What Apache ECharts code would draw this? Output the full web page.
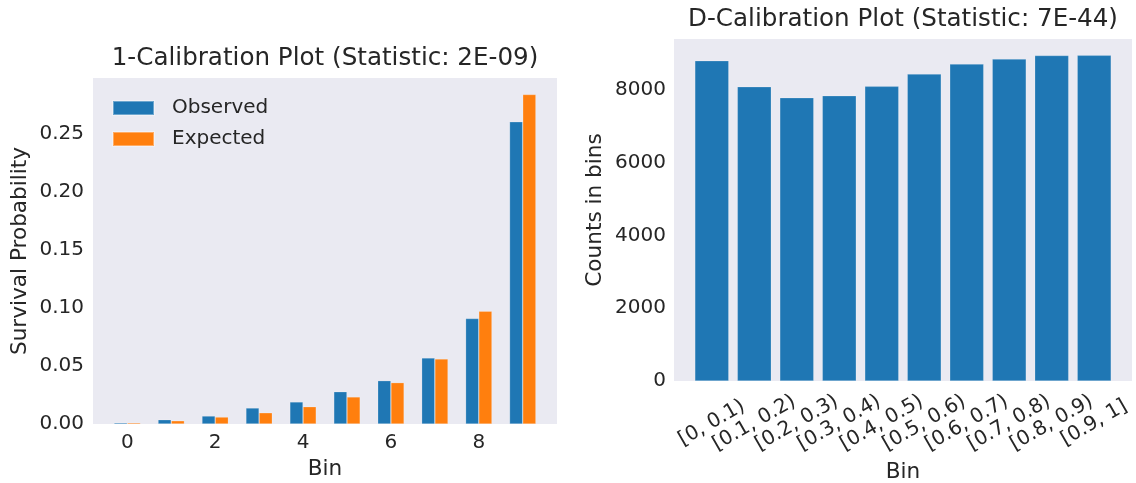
<!DOCTYPE html>
<html>
<head>
<meta charset="utf-8">
<script src="https://cdn.jsdelivr.net/npm/echarts@6/dist/echarts.min.js"></script>
<style>html,body{margin:0;padding:0;background:#fff}#c{width:1136px;height:483px}</style>
</head>
<body>
<div id="c"></div>
<script>
// ---- data ----
const leftTitle = '1-Calibration Plot (Statistic: 2E-09)';
const rightTitle = 'D-Calibration Plot (Statistic: 7E-44)';
const bins = [0, 1, 2, 3, 4, 5, 6, 7, 8, 9];
const leftTickLabels = [0, 2, 4, 6, 8];
const observed = [0.0011, 0.0037, 0.0069, 0.0138, 0.0190, 0.0278, 0.0373, 0.0569, 0.0908, 0.2601];
const expected = [0.0011, 0.0028, 0.0060, 0.0097, 0.0149, 0.0233, 0.0356, 0.0560, 0.0971, 0.2836];
const leftYTicks = [0, 0.05, 0.10, 0.15, 0.20, 0.25];
const binLabels = ['[0, 0.1)', '[0.1, 0.2)', '[0.2, 0.3)', '[0.3, 0.4)', '[0.4, 0.5)', '[0.5, 0.6)', '[0.6, 0.7)', '[0.7, 0.8)', '[0.8, 0.9)', '[0.9, 1]'];
const dCounts = [8806, 8091, 7789, 7844, 8102, 8440, 8715, 8852, 8950, 8955];
const rightYTicks = [0, 2000, 4000, 6000, 8000];

// ---- layout ----
const TXT = '#262626';
const BG = '#eaeaf2';
const FONT = 'DejaVu Sans';
const G1 = {left: 93, top: 78, width: 464, height: 346};
const G2 = {left: 674, top: 39, width: 458, height: 342};

const lw = 0.3; // left bar width in data units
const lMin = -lw - 0.05 * (9 + 2 * lw), lMax = 9 + lw + 0.05 * (9 + 2 * lw);
const rw = 0.8;
const rMin = -rw / 2 - 0.05 * (9 + rw), rMax = 9 + rw / 2 + 0.05 * (9 + rw);
const lBarPx = lw * G1.width / (lMax - lMin);
const rBarPx = rw * G2.width / (rMax - rMin);
const lYMax = Math.max(...observed, ...expected) * 1.05;
const rYMax = Math.max(...dCounts) * 1.05;

const chart = echarts.init(document.getElementById('c'), null, {renderer: 'canvas'});
const tickText = {color: TXT, fontSize: 20, fontFamily: FONT};
const nameText = {color: TXT, fontSize: 21.6, fontFamily: FONT};

const option = {
  animation: false,
  textStyle: {fontFamily: FONT, color: TXT},
  grid: [
    Object.assign({show: true, backgroundColor: BG, borderWidth: 0, containLabel: false, outerBoundsMode: 'none'}, G1),
    Object.assign({show: true, backgroundColor: BG, borderWidth: 0, containLabel: false, outerBoundsMode: 'none'}, G2)
  ],
  graphic: [
    {type: 'text', x: (G1.left + G1.width / 2), y: 59, style: {text: leftTitle, fill: TXT, font: '24.6px "DejaVu Sans"', align: 'center', verticalAlign: 'middle'}},
    {type: 'text', x: (G2.left + G2.width / 2), y: 19.5, style: {text: rightTitle, fill: TXT, font: '24.6px "DejaVu Sans"', align: 'center', verticalAlign: 'middle'}}
  ],
  legend: {
    data: ['Observed', 'Expected'],
    orient: 'vertical',
    left: 112, top: 98,
    padding: 0,
    itemWidth: 41, itemHeight: 14, itemGap: 11,
    icon: 'rect',
    textStyle: {color: TXT, fontSize: 20, fontFamily: FONT, padding: [0, 0, 0, 13]},
    selectedMode: false
  },
  xAxis: [
    {
      type: 'value', gridIndex: 0, min: lMin, max: lMax,
      name: 'Bin', nameLocation: 'middle', nameGap: 34, nameTextStyle: nameText,
      axisLine: {show: false}, axisTick: {show: false}, splitLine: {show: false},
      axisLabel: Object.assign({customValues: leftTickLabels, margin: 9, formatter: v => String(Math.round(v))}, tickText)
    },
    {
      type: 'value', gridIndex: 1, min: rMin, max: rMax,
      name: 'Bin', nameLocation: 'middle', nameGap: 80, nameTextStyle: nameText,
      axisLine: {show: false}, axisTick: {show: false}, splitLine: {show: false},
      axisLabel: Object.assign({customValues: bins, rotate: 30, align: 'center', verticalAlign: 'middle', margin: 42,
        formatter: v => binLabels[Math.round(v)] || ''}, tickText)
    }
  ],
  yAxis: [
    {
      type: 'value', gridIndex: 0, min: 0, max: lYMax,
      name: 'Survival Probability', nameLocation: 'middle', nameGap: 62, nameTextStyle: nameText,
      axisLine: {show: false}, axisTick: {show: false}, splitLine: {show: false},
      axisLabel: Object.assign({customValues: leftYTicks, margin: 9, padding: [4, 0, 0, 0], formatter: v => v.toFixed(2)}, tickText)
    },
    {
      type: 'value', gridIndex: 1, min: 0, max: rYMax,
      name: 'Counts in bins', nameLocation: 'middle', nameGap: 68, nameTextStyle: nameText,
      axisLine: {show: false}, axisTick: {show: false}, splitLine: {show: false},
      axisLabel: Object.assign({customValues: rightYTicks, margin: 8, padding: [4, 0, 0, 0], formatter: v => String(Math.round(v))}, tickText)
    }
  ],
  series: [
    {
      name: 'Observed', type: 'bar', xAxisIndex: 0, yAxisIndex: 0,
      barWidth: lBarPx, barGap: '-100%',
      itemStyle: {color: '#1f77b4', borderColor: 'rgba(255,255,255,0.35)', borderWidth: 0.6},
      data: bins.map((b, i) => [b - lw / 2, observed[i]])
    },
    {
      name: 'Expected', type: 'bar', xAxisIndex: 0, yAxisIndex: 0,
      barWidth: lBarPx, barGap: '-100%',
      itemStyle: {color: '#ff7f0e', borderColor: 'rgba(255,255,255,0.35)', borderWidth: 0.6},
      data: bins.map((b, i) => [b + lw / 2, expected[i]])
    },
    {
      name: 'Counts', type: 'bar', xAxisIndex: 1, yAxisIndex: 1,
      barWidth: rBarPx,
      itemStyle: {color: '#1f77b4', borderColor: 'rgba(255,255,255,0.35)', borderWidth: 0.6},
      data: bins.map((b, i) => [b, dCounts[i]])
    }
  ]
};
chart.setOption(option);
</script>
</body>
</html>
